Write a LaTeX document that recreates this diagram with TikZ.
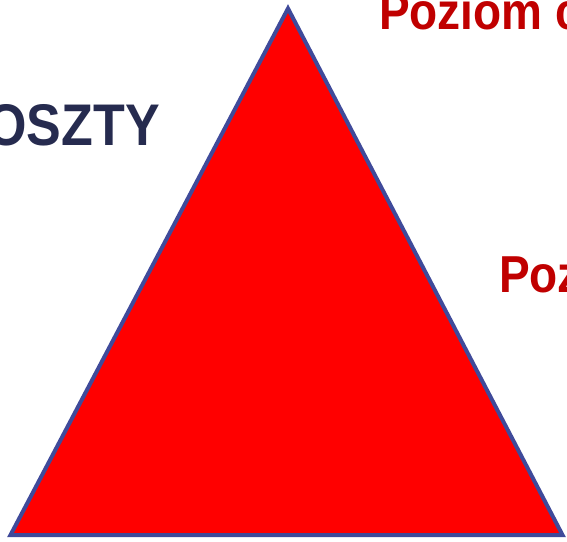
\documentclass[tikz,border=0pt]{standalone}
\usepackage{fontspec}
\setmainfont{Liberation Sans}
\usetikzlibrary{positioning}
\definecolor{navy}{RGB}{38,43,79}
\definecolor{darkred}{RGB}{192,0,0}
\definecolor{edgeblue}{RGB}{63,74,154}
\newcommand{\tall}[1]{\scalebox{1}[1.13]{#1}}
\tikzset{
  title/.style={inner sep=0pt, anchor=base west, font=\bfseries\fontsize{46}{46}\selectfont},
}

\begin{document}
\begin{tikzpicture}[x=1pt, y=-1pt]
\useasboundingbox (0,0) rectangle (567,541);
\clip (0,0) rectangle (567,541);
\coordinate (top) at (288,8.5);
\coordinate (left) at (10.5,535);
\coordinate (right) at (562.5,535);
\draw [draw=edgeblue, fill=red, line width=4pt, line join=miter] (top) -- (left) -- (right) -- cycle;
\node [title, text=navy, anchor=base east, font=\bfseries\fontsize{52}{52}\selectfont] (costs) at (160,145) {\tall{OSZTY}};
\node [title, text=darkred] (level1) at (379,29) {\tall{Poziom c}};
\node [title, text=darkred] (level2) at (499,292) {\tall{Poz}};
\end{tikzpicture}
\end{document}
